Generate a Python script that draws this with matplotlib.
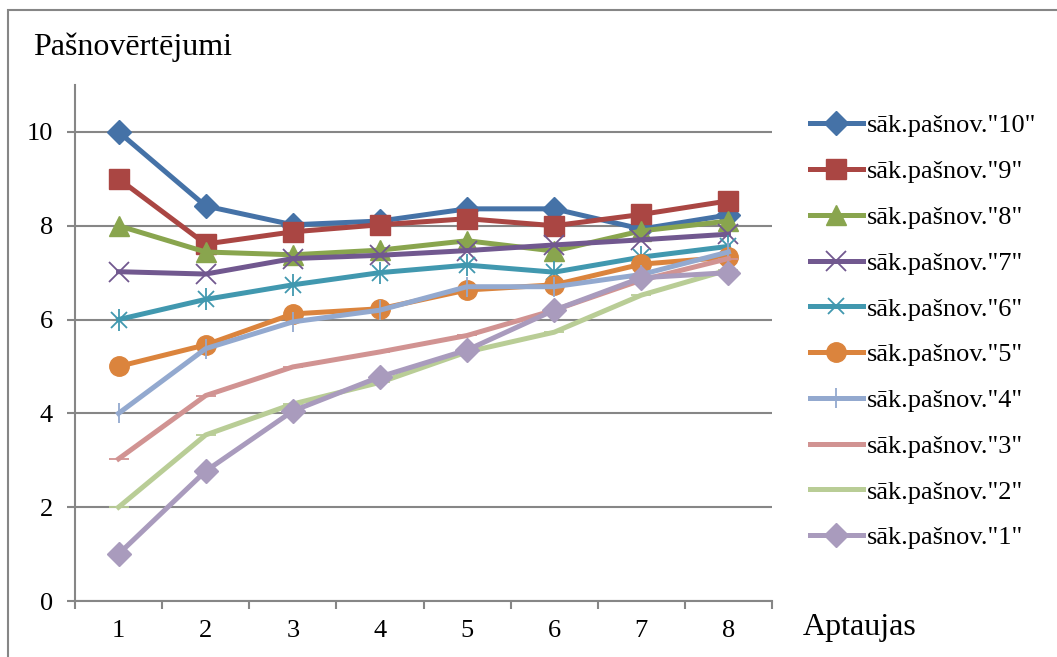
import matplotlib.pyplot as plt
from matplotlib.patches import Rectangle

plt.rcParams['font.family'] = ['Liberation Serif', 'DejaVu Serif']

surveys = [1, 2, 3, 4, 5, 6, 7, 8]

s10 = [10.0, 8.42, 8.02, 8.10, 8.36, 8.36, 7.93, 8.23]
s9 = [9.0, 7.61, 7.87, 8.02, 8.15, 8.0, 8.24, 8.53]
s8 = [8.0, 7.44, 7.38, 7.48, 7.68, 7.46, 7.89, 8.10]
s7 = [7.02, 6.97, 7.30, 7.37, 7.47, 7.59, 7.70, 7.82]
s6 = [6.0, 6.43, 6.74, 7.0, 7.16, 7.01, 7.33, 7.56]
s5 = [5.0, 5.46, 6.12, 6.23, 6.63, 6.74, 7.18, 7.33]
s4 = [4.0, 5.38, 5.95, 6.20, 6.70, 6.70, 6.96, 7.44]
s3 = [3.03, 4.38, 4.99, 5.31, 5.66, 6.20, 6.84, 7.30]
s2 = [2.0, 3.54, 4.20, 4.66, 5.31, 5.73, 6.52, 7.06]
s1 = [1.0, 2.77, 4.05, 4.78, 5.35, 6.20, 6.89, 7.0]

labels = ['sāk.pašnov."10"', 'sāk.pašnov."9"', 'sāk.pašnov."8"', 'sāk.pašnov."7"',
          'sāk.pašnov."6"', 'sāk.pašnov."5"', 'sāk.pašnov."4"', 'sāk.pašnov."3"',
          'sāk.pašnov."2"', 'sāk.pašnov."1"']
series = [s10, s9, s8, s7, s6, s5, s4, s3, s2, s1]
colors = ['#4572A7', '#AA4643', '#89A54E', '#71588F', '#4198AF',
          '#DB843D', '#93A9CF', '#D19392', '#B9CD96', '#A99BBD']
markers = ['D', 's', '^', 'x', '*', 'o', '|', '_', '_', 'D']

fig = plt.figure(figsize=(10.57, 6.57), dpi=100)
ax = fig.add_axes([75 / 1057, 56 / 657, 697 / 1057, 516 / 657])

# outer chart border (clipped on right/bottom like the original)
fig.patches.append(Rectangle((8 / 1057, -0.1), 1.2, (647 / 657) + 0.1,
                             transform=fig.transFigure, fill=False,
                             edgecolor='#868686', linewidth=1.5))

lw = 3.6
for vals, lab, col, mk in zip(series, labels, colors, markers):
    if mk == '*':
        # asterisk: x with a vertical bar
        ax.plot(surveys, vals, color=col, lw=lw, marker='x', ms=12, mew=1.3, label=lab)
        ax.plot(surveys, vals, color=col, lw=0, marker='|', ms=16, mew=1.3)
    elif mk in ('x', '|', '_'):
        ax.plot(surveys, vals, color=col, lw=lw, marker=mk, ms=15, mew=1.3, label=lab)
    else:
        ms = 12 if mk == 'D' else 14
        ax.plot(surveys, vals, color=col, lw=lw, marker=mk, ms=ms, label=lab)

ax.set_xlim(0.5, 8.5)
ax.set_ylim(0, 11)
ax.set_yticks([0, 2, 4, 6, 8, 10])
ax.set_xticks(surveys)
ax.set_xticks([x + 0.5 for x in range(0, 9)], minor=True)
ax.tick_params(axis='x', which='major', length=0, labelsize=19, pad=14)
ax.tick_params(axis='x', which='minor', length=6, width=1.5, color='#868686', direction='out')
ax.tick_params(axis='y', length=6, width=1.5, color='#868686', direction='out', labelsize=19, pad=10)
ax.yaxis.grid(True, color='#868686', linewidth=1.5)
ax.set_axisbelow(True)
for side in ('top', 'right'):
    ax.spines[side].set_visible(False)
for side in ('left', 'bottom'):
    ax.spines[side].set_color('#868686')
    ax.spines[side].set_linewidth(1.5)

fig.text(33 / 1057, 1 - 47 / 657, 'Pašnovērtējumi', fontsize=23, va='center', ha='left')
fig.text(803 / 1057, 1 - 628 / 657, 'Aptaujas', fontsize=23, va='center', ha='left')

ax.legend(loc='upper left', bbox_to_anchor=(810 / 1057, 1 - 114 / 657),
          bbox_transform=fig.transFigure, frameon=False, fontsize=19,
          handlelength=2.0, handletextpad=0.15, labelspacing=0.845, borderaxespad=0,
          borderpad=0)

fig.savefig('out.png', dpi=100)
